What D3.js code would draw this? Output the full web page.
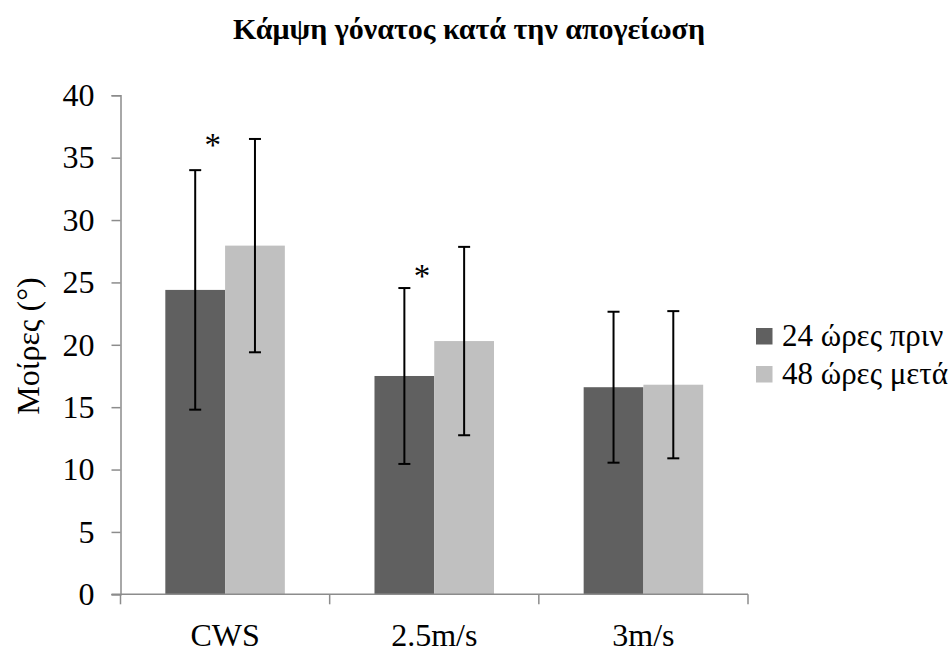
<!DOCTYPE html>
<html><head><meta charset="utf-8">
<script src="https://cdn.jsdelivr.net/npm/d3@7"></script>
<style>body{margin:0;background:#fff}svg{display:block}</style>
</head><body>
<svg id="c" width="952" height="655"></svg>
<script>
const categories = ["CWS", "2.5m/s", "3m/s"];
const seriesNames = ["24 ώρες πριν", "48 ώρες μετά"];
const before = [24.4, 17.5, 16.6];
const beforeErr = [9.6, 7.05, 6.05];
const after = [27.95, 20.3, 16.8];
const afterErr = [8.55, 7.55, 5.9];
const starCategories = ["CWS", "2.5m/s"];
const starValues = [36.3, 25.8];
const yTicks = [0, 5, 10, 15, 20, 25, 30, 35, 40];
const colors = ["#606060", "#c0c0c0"];

const FONT = '"Liberation Serif"';
const svg = d3.select("#c");
const m = {l: 120.5, r: 748, t: 95.3, b: 594.3};
const x = d3.scaleBand().domain(categories).range([m.l, m.r]).paddingInner(0).paddingOuter(0);
const x1 = d3.scaleBand().domain([0, 1]).range([0, x.bandwidth()]).paddingOuter(0.75).paddingInner(0);
const y = d3.scaleLinear().domain([0, 40]).range([m.b, m.t]);

const data = categories.map((c, i) => [
  {c, s: 0, v: before[i], e: beforeErr[i]},
  {c, s: 1, v: after[i], e: afterErr[i]}
]).flat();

// bars
svg.append("g").selectAll("rect").data(data).join("rect")
  .attr("x", d => x(d.c) + x1(d.s))
  .attr("width", x1.bandwidth())
  .attr("y", d => y(d.v))
  .attr("height", d => y(0) - y(d.v))
  .attr("fill", d => colors[d.s]);

// axes
const yAxis = svg.append("g").attr("transform", `translate(${m.l},0)`)
  .call(d3.axisLeft(y).tickValues(yTicks).tickSize(9).tickPadding(17));
yAxis.attr("font-family", null).attr("font-size", null);
yAxis.select(".domain").attr("stroke", "#8c8c8c").attr("stroke-width", 1.5);
yAxis.selectAll(".tick line").attr("stroke", "#8c8c8c").attr("stroke-width", 1.5);
yAxis.selectAll(".tick text").style("font-family", FONT).style("font-size", "32px").attr("fill", "#000");

const xg = svg.append("g").attr("transform", `translate(0,${m.b})`);
xg.append("line").attr("x1", m.l - 9).attr("x2", m.r).attr("y1", 0).attr("y2", 0)
  .attr("stroke", "#8c8c8c").attr("stroke-width", 1.5);
const bounds = categories.map(c => x(c)).concat([x.range()[1]]);
xg.selectAll("line.t").data(bounds).join("line").attr("class", "t")
  .attr("x1", d => d).attr("x2", d => d).attr("y1", 0).attr("y2", 10)
  .attr("stroke", "#8c8c8c").attr("stroke-width", 1.5);
xg.selectAll("text").data(categories).join("text")
  .attr("x", d => x(d) + x.bandwidth() / 2).attr("y", 52)
  .attr("text-anchor", "middle").style("font-family", FONT).style("font-size", "32px").text(d => d);

// error bars
const eb = svg.append("g").attr("stroke", "#000").attr("stroke-width", 2);
data.forEach(d => {
  const cx = x(d.c) + x1(d.s) + x1.bandwidth() / 2;
  eb.append("line").attr("x1", cx).attr("x2", cx).attr("y1", y(d.v - d.e)).attr("y2", y(d.v + d.e));
  eb.append("line").attr("x1", cx - 6).attr("x2", cx + 6).attr("y1", y(d.v - d.e)).attr("y2", y(d.v - d.e));
  eb.append("line").attr("x1", cx - 6).attr("x2", cx + 6).attr("y1", y(d.v + d.e)).attr("y2", y(d.v + d.e));
});

// significance asterisks
starCategories.forEach((c, i) => {
  svg.append("text")
    .attr("x", x(c) + x.bandwidth() / 2 - 12.3)
    .attr("y", y(starValues[i]) + 15)
    .attr("text-anchor", "middle").style("font-family", FONT).style("font-size", "33px").text("*");
});

// title
svg.append("text").attr("x", 469).attr("y", 39).attr("text-anchor", "middle")
  .style("font-family", FONT).style("font-size", "30px").style("font-weight", "bold")
  .text("Κάμψη γόνατος κατά την απογείωση");

// y title
svg.append("text").attr("transform", "translate(39,346) rotate(-90)")
  .attr("text-anchor", "middle").style("font-family", FONT).style("font-size", "32px").text("Μοίρες (°)");

// legend
const lg = svg.append("g").attr("transform", "translate(756,0)");
seriesNames.forEach((n, i) => {
  const cy = 336 + i * 38;
  lg.append("rect").attr("x", 0).attr("y", cy - 8).attr("width", 16.5).attr("height", 16.5).attr("fill", colors[i]);
  lg.append("text").attr("x", 26).attr("y", cy + 10).style("font-family", FONT).style("font-size", "31px").text(n);
});
</script>
</body></html>
